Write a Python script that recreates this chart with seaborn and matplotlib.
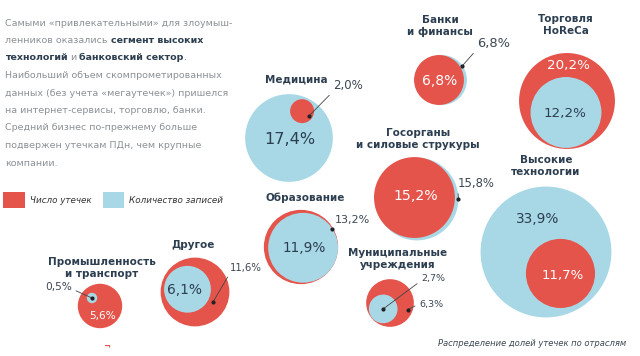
import numpy as np
import pandas as pd
import matplotlib
matplotlib.use("Agg")
import matplotlib.pyplot as plt
import matplotlib.colors as mcolors
from matplotlib.patches import Patch
import seaborn as sns

# shares by industry, %
categories = ['Промышленность\nи транспорт', 'Другое', 'Образование', 'Медицина',
              'Банки\nи финансы', 'Госорганы\nи силовые струкуры',
              'Муниципальные\nучреждения', 'Высокие\nтехнологии', 'Торговля\nHoReCa']
leaks = [5.6, 11.6, 13.2, 2.0, 6.8, 15.2, 6.3, 11.7, 20.2]      # Число утечек
records = [0.5, 6.1, 11.9, 17.4, 6.8, 15.8, 2.7, 33.9, 12.2]    # Количество записей
series = ['Число утечек', 'Количество записей']

RED = '#E5544B'
BLUE = '#A8D8E6'
NAVY = '#2c3e50'
DARK = '#3b4752'
GREY = '#8c9196'
DPI = 100

# bubble scale: radius (px) = K_PX * value ** 0.6
K_PX = 7.9
VMAX = 40.0

# layout in pixels, y pointing down
cx = [100, 195, 301, 289, 442, 417, 390, 546, 567]     # centre of the outer bubble
cy = [306, 292, 247, 138, 80, 199, 303, 252, 101]
inner_ang = [225, 200, 20, -64, 180, 210, 139, 56, 95]  # where the inner bubble leans
inner_gap = [5.7, 3, 0, 2, -3, -2, 0.5, 5, 1]
title_x = [102, 193, 305, 296, 440, 418, 398, 546, 566]
title_y = [268, 245, 198, 79, 26, 139, 259, 166, 25]

leak_lbl_x = [103, 230, 335, 333, 440, 416, 419, 563, 568]
leak_lbl_y = [316, 268, 220, 85, 81, 196, 304, 275, 65]
leak_lbl_fs = [7.6, 7.3, 8.0, 8.5, 10, 10.2, 6.8, 9.5, 9.7]
leak_lead = [None, (30, .6, (0, 0)), (-30, .97, (0, 0)), (35, .7, (0, 0)),
             None, None, (20, .8, (0, .5)), None, None]

rec_lbl_x = [72, 185, 304, 290, 477, 458, 421, 538, 565]
rec_lbl_y = [287, 290, 248, 140, 44, 183, 279, 219, 113]
rec_lbl_fs = [7.6, 9.9, 9.8, 11.6, 9.4, 8.4, 6.8, 9.8, 9.7]
rec_lead = [(0, 0, (1, .3)), None, None, None, (-35, 1, (0, .1)), (0, 1, (0, 0)),
            (0, 0, (0, .3)), None, None]


def radius(v):
    return K_PX * v ** 0.6


def pct(v):
    return f"{v:.1f}%".replace('.', ',')


# bubble centres: the bigger value is the outer bubble, the other sits inside it
leak_xy, rec_xy, rows = [], [], []
for i, cat in enumerate(categories):
    lk, rc = leaks[i], records[i]
    rec_outer = rc >= lk
    big, small = (rc, lk) if rec_outer else (lk, rc)
    a = np.deg2rad(inner_ang[i])
    d = radius(big) - radius(small) - inner_gap[i]
    inner = (cx[i] + d * np.cos(a), cy[i] + d * np.sin(a))
    outer = (cx[i], cy[i])
    rxy, lxy = (outer, inner) if rec_outer else (inner, outer)
    rec_xy.append(rxy)
    leak_xy.append(lxy)
    pair = [(series[1], rc, rxy), (series[0], lk, lxy)]
    if not rec_outer:
        pair = pair[::-1]
    for name, v, (x, y) in pair:
        rows.append({'category': cat, 'series': name, 'value': v, 'x': x, 'y': y})

df = pd.DataFrame(rows).sort_values('value', ascending=False, kind='stable')

fig = plt.figure(figsize=(6.4, 3.56), dpi=DPI)
ax = fig.add_axes([0, 0, 1, 1])

smax = (2 * radius(VMAX) * 72 / DPI) ** 2
sns.scatterplot(data=df, x='x', y='y', hue='series', size='value',
                palette={series[0]: RED, series[1]: BLUE},
                sizes=(0, smax), size_norm=mcolors.PowerNorm(1.2, vmin=0, vmax=VMAX),
                linewidth=0, alpha=1, legend=False, ax=ax, zorder=2)

ax.set_xlim(0, 640)
ax.set_ylim(356, 0)
ax.axis('off')

# category titles
for i, cat in enumerate(categories):
    ax.text(title_x[i], title_y[i], cat, ha='center', va='center', fontsize=7.5,
            fontweight='bold', color=NAVY, linespacing=1.2, zorder=5)


def value_label(v, centre, r, lx, ly, fs, lead, inside_color):
    if lead is None:
        ax.text(lx, ly, pct(v), ha='center', va='center', fontsize=fs,
                color=inside_color, zorder=5)
        return
    ang, frac, relpos = lead
    a = np.deg2rad(ang)
    px = centre[0] + frac * r * np.cos(a)
    py = centre[1] + frac * r * np.sin(a)
    ax.annotate(pct(v), xy=(px, py), xytext=(lx, ly),
                ha='right' if relpos[0] == 1 else 'left', va='center',
                fontsize=fs, color=DARK, zorder=5,
                arrowprops=dict(arrowstyle='-', color='#444444', lw=0.6,
                                shrinkA=1, shrinkB=0, relpos=relpos))
    ax.plot(px, py, 'o', ms=2, color='#222222', zorder=6)


for i in range(len(categories)):
    value_label(leaks[i], leak_xy[i], radius(leaks[i]), leak_lbl_x[i], leak_lbl_y[i],
                leak_lbl_fs[i], leak_lead[i], 'white')
    value_label(records[i], rec_xy[i], radius(records[i]), rec_lbl_x[i], rec_lbl_y[i],
                rec_lbl_fs[i], rec_lead[i], NAVY)

# intro paragraph with bold fragments
para = [
    [("Самыми «привлекательными» для злоумыш-", False, 0)],
    [("ленников оказались", False, 0), ("сегмент высоких", True, 2.2)],
    [("технологий", True, 0), ("и", False, 1.6), ("банковский сектор", True, 2.2), (".", False, 0)],
    [("Наибольший объем скомпрометированных", False, 0)],
    [("данных (без учета «мегаутечек») пришелся", False, 0)],
    [("на интернет-сервисы, торговлю, банки.", False, 0)],
    [("Средний бизнес по-прежнему больше", False, 0)],
    [("подвержен утечкам ПДн, чем крупные", False, 0)],
    [("компании.", False, 0)],
]
for k, segs in enumerate(para):
    prev = None
    for txt, bold, gap in segs:
        kw = dict(fontsize=6.8, color=NAVY if bold else GREY,
                  fontweight='bold' if bold else 'normal', ha='left')
        if prev is None:
            prev = ax.text(5, 23 + k * 17.5, txt, va='center', **kw)
        else:
            prev = ax.annotate(txt, xy=(1, 0), xycoords=prev, xytext=(gap, 0),
                               textcoords='offset points', va='bottom', **kw)

handles = [Patch(facecolor=RED, edgecolor='none', label=series[0]),
           Patch(facecolor=BLUE, edgecolor='none', label=series[1])]
ax.legend(handles=handles, loc='center left', bbox_to_anchor=(3, 200),
          bbox_transform=ax.transData, ncol=2, frameon=False, borderpad=0,
          borderaxespad=0, handlelength=2.5, handleheight=2.29, handletextpad=0.57,
          columnspacing=1.26, prop={'style': 'italic', 'size': 6.3}, labelcolor='#333333')

ax.text(626, 343, 'Распределение долей утечек по отраслям', ha='right', va='center',
        style='italic', fontsize=6.0, color=DARK)
ax.text(107, 347, '¬', ha='center', va='center', fontsize=6, fontweight='bold', color=RED)

fig.savefig('out.png', dpi=DPI)
